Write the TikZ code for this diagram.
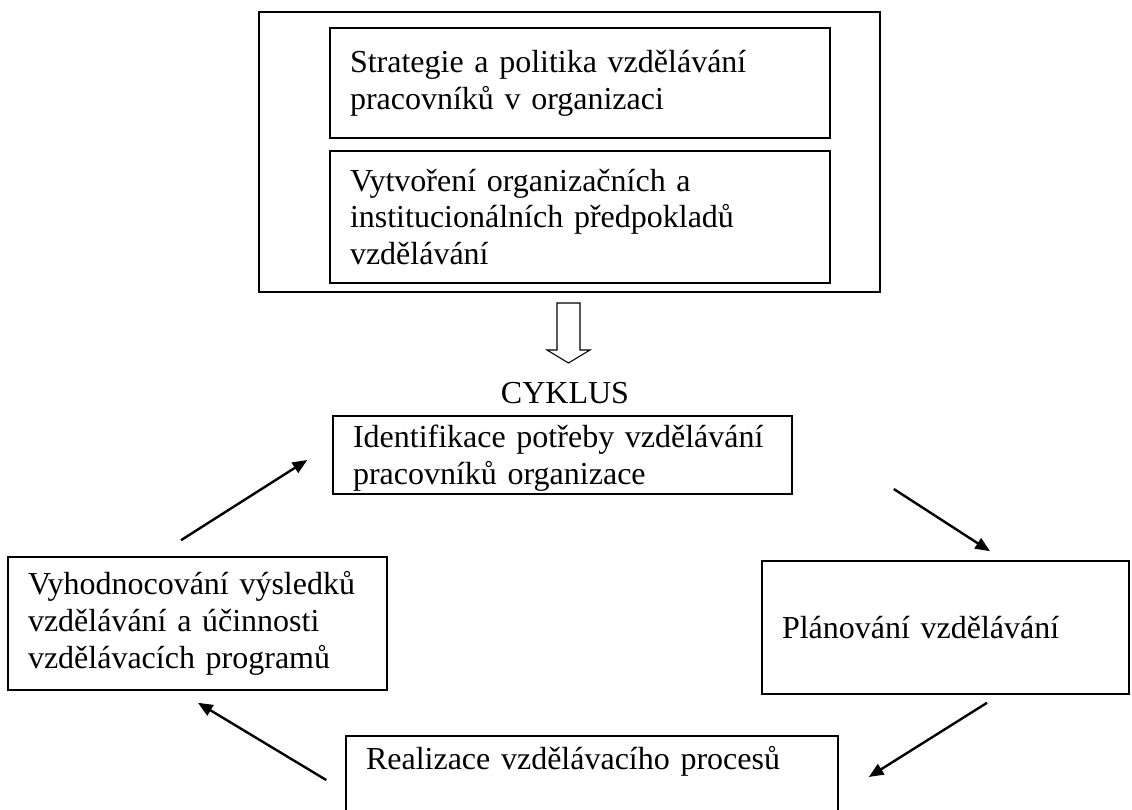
\documentclass[tikz,border=0pt]{standalone}
\usepackage{fontspec}
\setmainfont{Liberation Serif}
\usetikzlibrary{arrows.meta,positioning}
\tikzstyle{krok} = [draw, line width=1.2pt, align=left, inner xsep=15pt, inner ysep=2pt, font=\fontsize{24}{27.6}\selectfont]
\tikzstyle{sipka} = [line width=1.8pt, -{Triangle[length=11pt,width=9pt]}]

\begin{document}
\begin{tikzpicture}[x=0.75pt,y=-0.75pt]
\useasboundingbox (0,0) rectangle (1132,810);
\clip (0,0) rectangle (1132,810);
% horni cast
\node[krok, minimum width=465.75pt, minimum height=210pt] (ramec) at (569.5,152) {};
\node[krok, text width=345pt, minimum height=82.5pt] (strategie) at (580,83) {Strategie a politika vzdělávání\\pracovníků v organizaci};
\node[krok, text width=345pt, minimum height=99pt] (predpoklady) at (580,217) {Vytvoření organizačních a\\institucionálních předpokladů\\vzdělávání};
\draw[line width=0.8pt] (557,303) -- (580,303) -- (580,350) -- (590,350) -- (568.5,363) -- (547,350) -- (557,350) -- cycle;
\node[font=\fontsize{24}{27.6}\selectfont, inner sep=0pt] (cyklus) at (565,393) {CYKLUS};
% cyklus
\node[krok, text width=314.25pt, minimum height=58.5pt] (identifikace) at (562.5,455) {\rule{0pt}{22pt}Identifikace potřeby vzdělávání\\pracovníků organizace};
\node[krok, text width=245.25pt, minimum height=99.75pt] (planovani) at (945.5,627.5) {Plánování vzdělávání};
\node[krok, text width=339pt, inner ysep=8pt, anchor=north] (realizace) at (592,735) {Realizace vzdělávacího procesů\\ ~\\ ~};
\node[krok, text width=254.25pt, minimum height=99.75pt] (vyhodnoceni) at (197.5,623.5) {Vyhodnocování výsledků\\vzdělávání a účinnosti\\vzdělávacích programů};
\draw[sipka] ([shift={(-16.5,-16)}]vyhodnoceni.north) -- ([shift={(-25,5)}]identifikace.west);
\draw[sipka] ([shift={(101,34)}]identifikace.east) -- ([shift={(44.5,-9)}]planovani.north);
\draw[sipka] ([shift={(41.5,8)}]planovani.south) -- ([shift={(30,42)}]realizace.north east);
\draw[sipka] ([shift={(-19,45)}]realizace.north west) -- ([shift={(0.5,12)}]vyhodnoceni.south);
\end{tikzpicture}
\end{document}
